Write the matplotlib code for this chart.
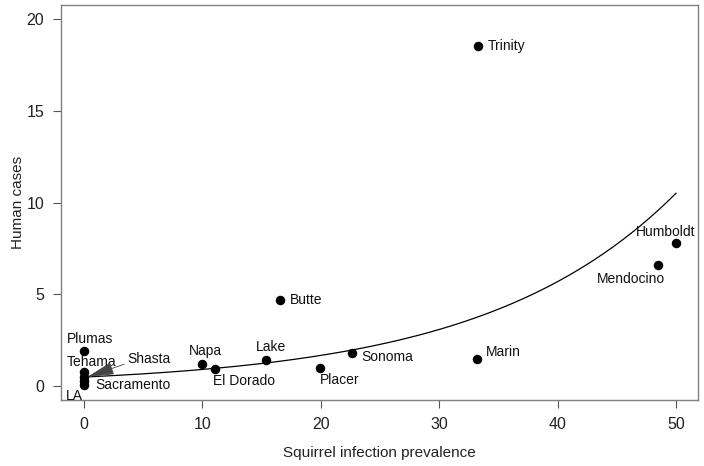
import numpy as np
import matplotlib
matplotlib.use('Agg')
import matplotlib.pyplot as plt

plt.rcParams['font.family'] = ['Liberation Sans', 'DejaVu Sans']

# county data: squirrel prevalence vs human cases
counties = ['Trinity', 'Humboldt', 'Mendocino', 'Butte', 'Marin', 'Sonoma', 'Placer',
            'Lake', 'Napa', 'El Dorado', 'Plumas', 'Tehama', 'Shasta', 'Sacramento', 'LA']
prevalence = [33.3, 50.0, 48.5, 16.6, 33.2, 22.6, 19.9, 15.4, 10.0, 11.1, 0, 0, 0, 0, 0]
cases = [18.5, 7.8, 6.6, 4.7, 1.5, 1.8, 1.0, 1.4, 1.2, 0.95, 1.9, 0.75, 0.5, 0.25, 0.05]

# label positions (x, y, ha)
label_pos = {
    'Trinity': (34.1, 18.55, 'left'),
    'Humboldt': (49.1, 8.4, 'center'),
    'Mendocino': (46.2, 5.85, 'center'),
    'Butte': (17.4, 4.7, 'left'),
    'Marin': (33.95, 1.85, 'left'),
    'Sonoma': (23.4, 1.6, 'left'),
    'Placer': (19.9, 0.35, 'left'),
    'Lake': (14.5, 2.15, 'left'),
    'Napa': (8.87, 1.93, 'left'),
    'El Dorado': (10.9, 0.3, 'left'),
    'Plumas': (-1.44, 2.58, 'left'),
    'Tehama': (-1.44, 1.33, 'left'),
    'Sacramento': (0.93, 0.07, 'left'),
    'LA': (-1.55, -0.52, 'left'),
}

# fitted exponential curve parameters
fit_a = 0.49
fit_b = 0.0613

fig = plt.figure(figsize=(7.04, 4.66), dpi=100)
ax = fig.add_axes([0.0866, 0.1416, 0.9049, 0.8477])

ax.scatter(prevalence, cases, s=34, color='black', zorder=3)
xx = np.linspace(0, 50, 200)
ax.plot(xx, fit_a * np.exp(fit_b * xx), color='black', linewidth=0.9)

for name in counties:
    if name in label_pos:
        x, y, ha = label_pos[name]
        ax.text(x, y, name, ha=ha, va='center', fontsize=10, color='#111111')

ax.annotate('Shasta', xy=(0.3, 0.5), xytext=(3.63, 1.47), fontsize=10, color='#111111',
            ha='left', va='center',
            arrowprops=dict(arrowstyle='-|>,head_length=1.7,head_width=0.4',
                            color='#444444', linewidth=0.6, shrinkA=0, shrinkB=0,
                            relpos=(0.0, 0.2)))

ax.set_xlim(-1.94, 51.86)
ax.set_ylim(-0.76, 20.76)
ax.set_xticks([0, 10, 20, 30, 40, 50])
ax.set_yticks([0, 5, 10, 15, 20])
for sp in ax.spines.values():
    sp.set_color('#808080')
    sp.set_linewidth(1.0)
ax.tick_params(direction='out', length=6, color='#555555', labelsize=11.5, labelcolor='#222222', pad=6)
ax.set_xlabel('Squirrel infection prevalence', fontsize=11, color='#222222', labelpad=10)
ax.set_ylabel('Human cases', fontsize=11, color='#222222', labelpad=1)

plt.savefig('out.png', dpi=100)
